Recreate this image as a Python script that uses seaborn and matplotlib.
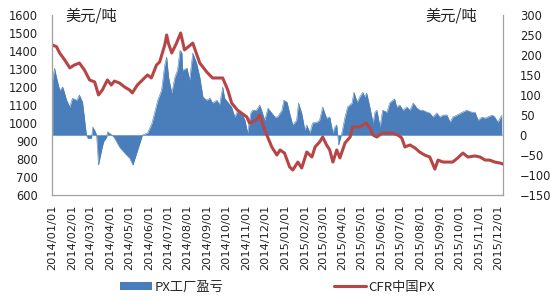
import matplotlib
matplotlib.use("Agg")
import matplotlib.pyplot as plt
import matplotlib.dates as mdates
from matplotlib.patches import Patch
from matplotlib.lines import Line2D
import seaborn as sns
import pandas as pd

sns.set_theme(style="white")
plt.rcParams['font.family'] = ['DejaVu Sans', 'Noto Sans CJK SC']
CJK = ['Noto Sans CJK SC', 'DejaVu Sans']

# ---------------- data ----------------
cfr_dates = [
    "2014-01-01", "2014-01-07", "2014-01-12", "2014-01-20", "2014-01-28", "2014-02-04",
    "2014-02-12", "2014-02-20", "2014-02-28", "2014-03-08", "2014-03-14", "2014-03-20",
    "2014-03-28", "2014-04-03", "2014-04-08", "2014-04-16", "2014-04-24", "2014-05-02",
    "2014-05-06", "2014-05-14", "2014-05-22", "2014-05-30", "2014-06-05", "2014-06-13",
    "2014-06-18", "2014-06-26", "2014-06-29", "2014-07-02", "2014-07-07", "2014-07-14",
    "2014-07-21", "2014-07-27", "2014-08-09", "2014-08-20", "2014-08-31", "2014-09-09",
    "2014-09-25", "2014-10-03", "2014-10-09", "2014-10-18", "2014-11-02", "2014-11-06",
    "2014-11-17", "2014-11-22", "2014-11-30", "2014-12-11", "2014-12-19", "2014-12-24",
    "2014-12-31", "2015-01-08", "2015-01-13", "2015-01-21", "2015-01-27", "2015-02-04",
    "2015-02-12", "2015-02-17", "2015-02-24", "2015-03-01", "2015-03-07", "2015-03-12",
    "2015-03-17", "2015-03-23", "2015-03-28", "2015-04-05", "2015-04-13", "2015-04-17",
    "2015-04-28", "2015-05-08", "2015-05-14", "2015-05-19", "2015-05-25", "2015-06-02",
    "2015-06-10", "2015-06-19", "2015-06-27", "2015-07-03", "2015-07-08", "2015-07-16",
    "2015-07-24", "2015-07-31", "2015-08-08", "2015-08-16", "2015-08-24", "2015-08-29",
    "2015-09-06", "2015-09-13", "2015-09-21", "2015-09-29", "2015-10-07", "2015-10-15",
    "2015-10-26", "2015-11-03", "2015-11-11", "2015-11-18", "2015-11-26", "2015-12-04",
    "2015-12-09",
]
cfr_px = [
    1433, 1424, 1389, 1350, 1306, 1322,
    1333, 1294, 1239, 1228, 1156, 1183,
    1239, 1211, 1233, 1222, 1200, 1183,
    1167, 1211, 1239, 1267, 1250, 1322,
    1339, 1433, 1489, 1440, 1389, 1440,
    1500, 1406, 1444, 1333, 1283, 1250,
    1250, 1183, 1111, 1072, 1033, 1000,
    1017, 1044, 961, 867, 822, 850,
    833, 756, 739, 783, 750, 839,
    811, 867, 894, 922, 878, 850,
    783, 850, 806, 889, 922, 978,
    978, 1000, 972, 933, 922, 944,
    944, 944, 933, 917, 867, 878,
    861, 839, 822, 811, 744, 794,
    783, 783, 783, 806, 833, 811,
    817, 811, 794, 794, 783, 778,
    772,
]

margin_dates = [
    "2014-01-01", "2014-01-04", "2014-01-07", "2014-01-12", "2014-01-17", "2014-01-23",
    "2014-01-28", "2014-02-01", "2014-02-08", "2014-02-12", "2014-02-17", "2014-02-23",
    "2014-02-25", "2014-03-03", "2014-03-05", "2014-03-08", "2014-03-11", "2014-03-14",
    "2014-03-19", "2014-03-22", "2014-03-27", "2014-03-28", "2014-04-04", "2014-04-08",
    "2014-04-16", "2014-04-24", "2014-05-02", "2014-05-07", "2014-05-13", "2014-05-18",
    "2014-05-22", "2014-05-30", "2014-06-06", "2014-06-10", "2014-06-15", "2014-06-21",
    "2014-06-26", "2014-06-29", "2014-07-02", "2014-07-07", "2014-07-12", "2014-07-16",
    "2014-07-20", "2014-07-23", "2014-07-24", "2014-07-31", "2014-08-04", "2014-08-09",
    "2014-08-15", "2014-08-20", "2014-08-25", "2014-08-31", "2014-09-05", "2014-09-09",
    "2014-09-16", "2014-09-20", "2014-09-25", "2014-09-28", "2014-10-03", "2014-10-09",
    "2014-10-14", "2014-10-19", "2014-10-25", "2014-10-30", "2014-11-03", "2014-11-08",
    "2014-11-11", "2014-11-17", "2014-11-22", "2014-11-25", "2014-11-30", "2014-12-05",
    "2014-12-11", "2014-12-16", "2014-12-20", "2014-12-27", "2014-12-30", "2015-01-04",
    "2015-01-08", "2015-01-13", "2015-01-19", "2015-01-22", "2015-01-27", "2015-02-01",
    "2015-02-04", "2015-02-09", "2015-02-13", "2015-02-20", "2015-02-24", "2015-03-01",
    "2015-03-07", "2015-03-12", "2015-03-17", "2015-03-20", "2015-03-23", "2015-03-26",
    "2015-03-31", "2015-04-05", "2015-04-09", "2015-04-16", "2015-04-19", "2015-04-24",
    "2015-04-28", "2015-05-03", "2015-05-06", "2015-05-09", "2015-05-14", "2015-05-19",
    "2015-05-22", "2015-05-25", "2015-05-30", "2015-06-03", "2015-06-10", "2015-06-14",
    "2015-06-19", "2015-06-22", "2015-06-25", "2015-06-30", "2015-07-05", "2015-07-11",
    "2015-07-16", "2015-07-21", "2015-07-27", "2015-08-01", "2015-08-05", "2015-08-12",
    "2015-08-16", "2015-08-21", "2015-08-27", "2015-09-01", "2015-09-06", "2015-09-12",
    "2015-09-17", "2015-09-21", "2015-09-28", "2015-10-06", "2015-10-13", "2015-10-21",
    "2015-10-26", "2015-10-31", "2015-11-06", "2015-11-11", "2015-11-15", "2015-11-22",
    "2015-11-26", "2015-12-01", "2015-12-07",
]
px_margin = [
    137, 167, 145, 112, 120, 87,
    70, 92, 87, 100, 82, 0,
    -8, -8, 20, 12, 0, -75,
    -37, -17, -5, 8, 0, -7,
    -30, -45, -58, -75, -45, -20,
    0, 5, 30, 55, 87, 112,
    175, 195, 145, 105, 145, 162,
    212, 205, 162, 167, 137, 205,
    180, 145, 95, 87, 92, 80,
    87, 75, 120, 92, 82, 70,
    45, 62, 55, 37, 5, 55,
    62, 62, 75, 62, 37, 67,
    55, 45, 45, 62, 87, 82,
    55, 25, 37, 80, 55, 12,
    25, 5, 30, 32, 37, 70,
    42, 45, 5, 20, 25, -25,
    5, 45, 70, 80, 107, 82,
    95, 107, 95, 105, 70, 30,
    57, 62, 20, 62, 57, 80,
    87, 90, 70, 75, 62, 70,
    62, 80, 67, 62, 62, 57,
    55, 45, 55, 45, 50, 50,
    32, 45, 50, 57, 62, 57,
    57, 37, 45, 42, 45, 50,
    45, 32, 50,
]

left_ticks = [600, 700, 800, 900, 1000, 1100, 1200, 1300, 1400, 1500, 1600]
right_ticks = [-150, -100, -50, 0, 50, 100, 150, 200, 250, 300]
unit_label = "美元/吨"
series_names = ["PX工厂盈亏", "CFR中国PX"]

df_cfr = pd.DataFrame({"date": pd.to_datetime(cfr_dates), "value": cfr_px})
df_margin = pd.DataFrame({"date": pd.to_datetime(margin_dates), "value": px_margin})

BLUE = "#4A7EBB"
RED = "#B84545"

# ---------------- figure ----------------
fig = plt.figure(figsize=(5.5, 3.0), dpi=100)
ax = fig.add_axes([52 / 550, 1 - 195 / 300, (503 - 52) / 550, 180 / 300])
ax2 = ax.twinx()

# blue area (right axis)
ax2.fill_between(df_margin["date"], 0, df_margin["value"], color=BLUE, lw=0)
sns.lineplot(data=df_margin, x="date", y="value", ax=ax2, color=BLUE, lw=0.4)
ax2.axhline(0, color="#A9C2E0", lw=0.8, zorder=0)

# red line (left axis) drawn above
sns.lineplot(data=df_cfr, x="date", y="value", ax=ax, color=RED, lw=2.2)
ax.set_zorder(ax2.get_zorder() + 1)
ax.patch.set_visible(False)

ax.set_ylim(600, 1600)
ax2.set_ylim(-150, 300)
ax.set_yticks(left_ticks)
ax2.set_yticks(right_ticks)
ax.set_xlim(pd.Timestamp("2013-12-31"), pd.Timestamp("2015-12-09"))

ax.xaxis.set_major_locator(mdates.MonthLocator())
ax.xaxis.set_major_formatter(mdates.DateFormatter("%Y/%m/%d"))

for a in (ax, ax2):
    a.set_xlabel("")
    a.set_ylabel("")
    a.grid(False)
    for s in a.spines.values():
        s.set_visible(False)

ax.spines["left"].set_visible(True)
ax.spines["bottom"].set_visible(True)
ax2.spines["right"].set_visible(True)
for s in (ax.spines["left"], ax.spines["bottom"], ax2.spines["right"]):
    s.set_color("#A0A0A0")
    s.set_linewidth(0.9)

ax.tick_params(axis="y", length=0, pad=10, labelsize=8.3, colors="#222222")
ax2.tick_params(axis="y", length=0, pad=12, labelsize=8.3, colors="#222222")
ax.tick_params(axis="x", length=0, pad=7, labelsize=8.2, colors="#222222", rotation=90)

fig.text(65 / 550, 1 - 16 / 300, unit_label, family=CJK, fontsize=11, ha="left", va="center", color="#222222")
fig.text(477 / 550, 1 - 16 / 300, unit_label, family=CJK, fontsize=11, ha="right", va="center", color="#222222")

handles = [Patch(facecolor=BLUE, edgecolor="none"), Line2D([0], [0], color=RED, lw=2.2)]
fig.legend(handles, series_names, loc="center", bbox_to_anchor=(0.505, 1 - 287 / 300), ncol=2,
           frameon=False, prop={"family": CJK, "size": 9.5}, handlelength=2.4, handleheight=0.6,
           handletextpad=0.2, columnspacing=8.4)

fig.savefig("out.png", dpi=100)
